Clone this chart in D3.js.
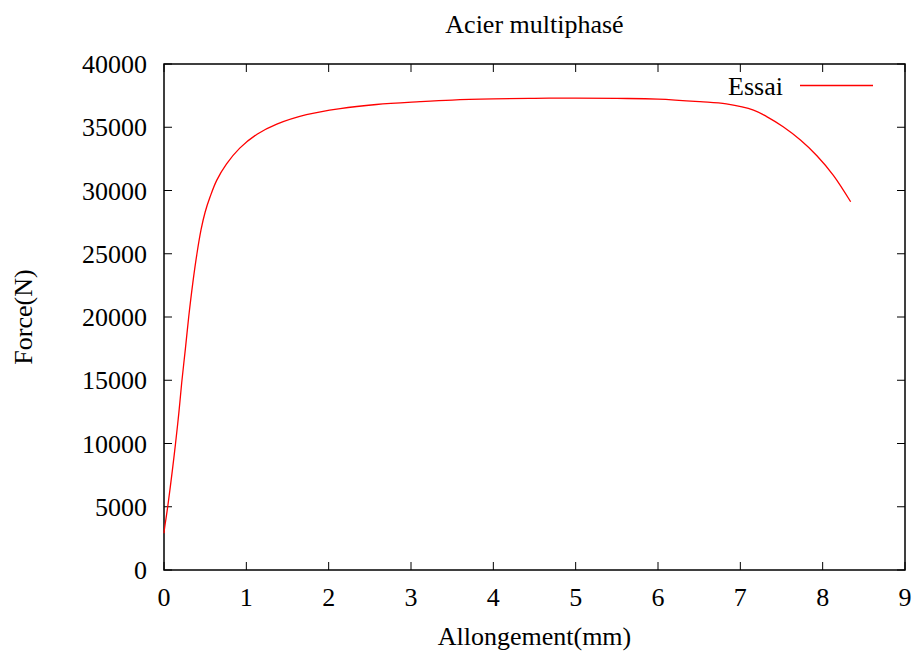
<!DOCTYPE html>
<html><head><meta charset="utf-8">
<script src="https://cdn.jsdelivr.net/npm/d3@7"></script>
<style>body{margin:0;background:#fff}svg{display:block}text{font-family:"Liberation Serif","Times New Roman",serif;fill:#000}</style>
</head><body>
<script>
const title = "Acier multiphasé";
const xLabel = "Allongement(mm)";
const yLabel = "Force(N)";
const seriesName = "Essai";
const xTicks = [0,1,2,3,4,5,6,7,8,9];
const yTicks = [0,5000,10000,15000,20000,25000,30000,35000,40000];
const elongation = [0,0.004,0.045,0.10,0.14,0.18,0.215,0.26,0.30,0.35,0.40,0.45,0.50,0.56,0.64,0.76,0.92,1.13,1.37,1.73,2.14,2.58,3.11,3.5,4.0,4.5,5.0,5.5,6.0,6.51,6.83,7.16,7.32,7.52,7.73,7.93,8.13,8.34];
const force = [2900,3160,5000,7800,10000,12400,14800,17500,20000,22700,25000,26900,28300,29500,30800,32100,33350,34450,35250,36000,36480,36800,37020,37150,37240,37290,37300,37280,37230,37020,36840,36360,35840,35040,33990,32750,31200,29110];

const W=917,H=655, L=164,R=905,T=64,B=570;
const svg=d3.select("body").append("svg").attr("width",W).attr("height",H);
const x=d3.scaleLinear().domain([0,9]).range([L,R]);
const y=d3.scaleLinear().domain([0,40000]).range([B,T]);
const fs=26, tl=8;

const g=svg.append("g");
xTicks.forEach(v=>{
  g.append("line").attr("x1",x(v)).attr("x2",x(v)).attr("y1",B).attr("y2",B-tl).attr("stroke","#000").attr("stroke-width",1);
  g.append("line").attr("x1",x(v)).attr("x2",x(v)).attr("y1",T).attr("y2",T+tl).attr("stroke","#000").attr("stroke-width",1);
  g.append("text").attr("x",x(v)).attr("y",606).attr("text-anchor","middle").attr("font-size",fs).text(v);
});
yTicks.forEach(v=>{
  g.append("line").attr("x1",L).attr("x2",L+tl).attr("y1",y(v)).attr("y2",y(v)).attr("stroke","#000").attr("stroke-width",1);
  g.append("line").attr("x1",R).attr("x2",R-tl).attr("y1",y(v)).attr("y2",y(v)).attr("stroke","#000").attr("stroke-width",1);
  g.append("text").attr("x",147).attr("y",y(v)+9).attr("text-anchor","end").attr("font-size",fs).text(v);
});
g.append("rect").attr("x",L).attr("y",T).attr("width",R-L).attr("height",B-T).attr("fill","none").attr("stroke","#000").attr("stroke-width",1.5);

const data=elongation.map((e,i)=>[e,force[i]]);
svg.append("path").datum(data)
  .attr("d",d3.line().x(d=>x(d[0])).y(d=>y(d[1])).curve(d3.curveCatmullRom.alpha(0.5)))
  .attr("fill","none").attr("stroke","#ff0000").attr("stroke-width",1.3);

svg.append("text").attr("x",783).attr("y",95).attr("text-anchor","end").attr("font-size",fs).text(seriesName);
svg.append("line").attr("x1",800).attr("x2",873).attr("y1",85.5).attr("y2",85.5).attr("stroke","#ff0000").attr("stroke-width",1.3);

svg.append("text").attr("x",(L+R)/2).attr("y",33).attr("text-anchor","middle").attr("font-size",fs).text(title);
svg.append("text").attr("x",(L+R)/2).attr("y",645).attr("text-anchor","middle").attr("font-size",fs).text(xLabel);
svg.append("text").attr("transform",`translate(32,${(T+B)/2}) rotate(-90)`).attr("text-anchor","middle").attr("font-size",fs).text(yLabel);
</script>
</body></html>
